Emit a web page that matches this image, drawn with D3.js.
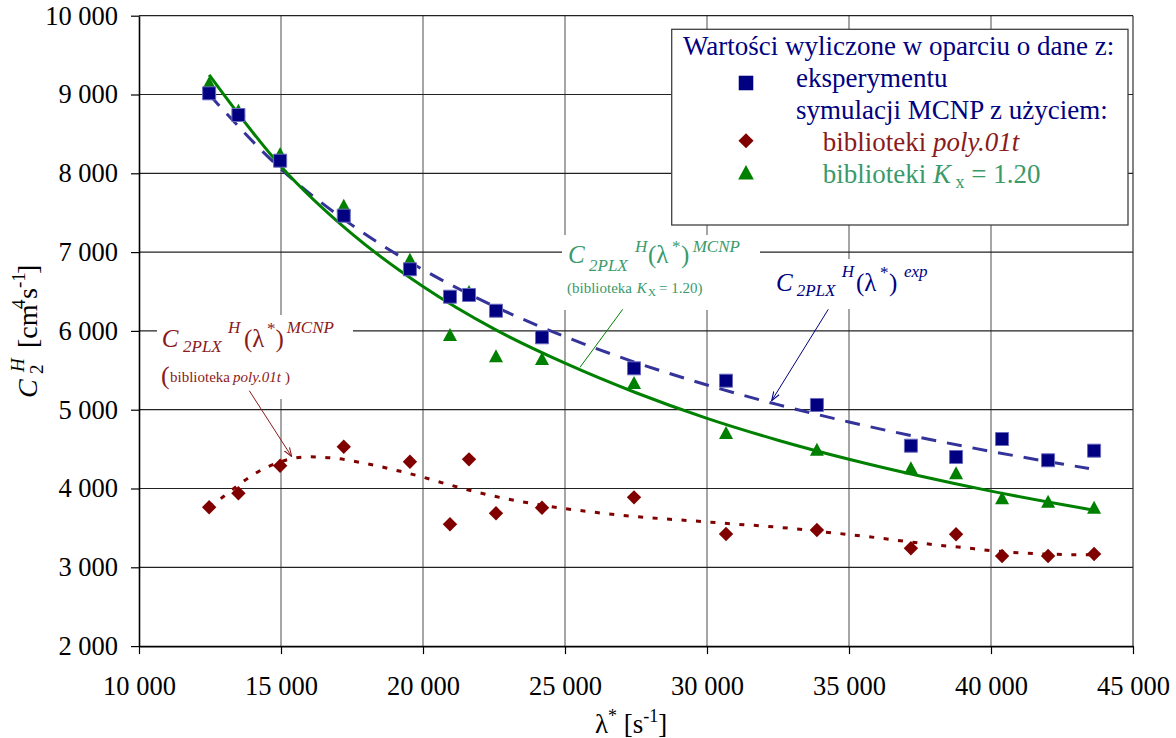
<!DOCTYPE html>
<html><head><meta charset="utf-8">
<script src="https://cdn.jsdelivr.net/npm/d3@7"></script>
<style>
body{margin:0;background:#fff}
svg{display:block}
</style>
</head><body>
<svg id="c" width="1176" height="738" font-family="Liberation Serif"></svg>
<script>
// ---- data ----
const lambda     = [12470, 13500, 14970, 17210, 19540, 20950, 21620, 22570, 24190, 27430, 30670, 33870, 37180, 38770, 40390, 42010, 43630];
const expValues  = [9015, 8740, 8160, 7462, 6782, 6434, 6456, 6256, 5919, 5525, 5368, 5060, 4543, 4400, 4628, 4358, 4480];
const polyValues = [3762, 3939, 4289, 4530, 4340, 3546, 4370, 3685, 3756, 3888, 3422, 3473, 3241, 3419, 3143, 3143, 3168];
const kxValues   = [9130, 8780, 8232, 7576, 6891, 5935, 6480, 5665, 5630, 5326, 4692, 4480, 4244, 4180, 3863, 3820, 3744];

// fitted curves C2PLX
const expCurveLambda = [12470, 15000, 17500, 20000, 22500, 25000, 27500, 30000, 32500, 35000, 37500, 40000, 42500, 43450];
const expCurveValues = [9000, 8054, 7342, 6777, 6314, 5927, 5598, 5314, 5064, 4844, 4648, 4471, 4311, 4254];
const kxCurveLambda  = [12470, 15000, 17500, 20000, 22500, 25000, 27500, 30000, 32500, 35000, 37500, 40000, 42500, 43630];
const kxCurveValues  = [9250, 8087, 7231, 6563, 6025, 5590, 5215, 4890, 4613, 4371, 4158, 3967, 3797, 3725];
const polyCurveLambda = [12470, 13000, 13500, 14000, 14500, 15000, 15500, 16000, 16500, 17000, 17500, 18000, 18500, 19000, 19500, 20000, 21000, 22000, 23000, 24000, 25000, 26000, 27000, 28000, 29000, 30000, 31000, 32000, 33000, 34000, 35000, 36000, 37000, 38000, 39000, 40000, 41000, 42000, 43000, 43630];
const polyCurveValues = [3760, 3905, 4045, 4170, 4270, 4340, 4388, 4402, 4396, 4380, 4350, 4316, 4278, 4235, 4192, 4143, 4040, 3945, 3865, 3800, 3745, 3700, 3659, 3628, 3602, 3576, 3548, 3523, 3492, 3453, 3416, 3375, 3329, 3287, 3251, 3212, 3183, 3168, 3160, 3160];

const xTicks = [10000, 15000, 20000, 25000, 30000, 35000, 40000, 45000];
const yTicks = [2000, 3000, 4000, 5000, 6000, 7000, 8000, 9000, 10000];

// ---- colours ----
const NAVY = "#000080", DASHBLUE = "#333399", GREEN = "#008000", LABELGREEN = "#3a9a6a", DARKRED = "#800000", LABELRED = "#8b1a1a";
const FONT = "Liberation Serif";

const svg = d3.select("#c");
svg.append("rect").attr("width", 1176).attr("height", 738).attr("fill", "#fff");

const L = 139, R = 1133, T = 15.7, B = 646.1;
const x = d3.scaleLinear().domain([10000, 45000]).range([L, R]);
const y = d3.scaleLinear().domain([2000, 10000]).range([B, T]);
const fmt = v => d3.format(",")(v).replace(/,/g, " ");

// gridlines
svg.append("g").selectAll("line").data(xTicks.filter(v => v > 10000)).join("line")
  .attr("x1", d => x(d)).attr("x2", d => x(d)).attr("y1", T).attr("y2", B)
  .attr("stroke", d => d === 45000 ? "#333" : "#6a6a6a").attr("stroke-width", 1.2);
svg.append("g").selectAll("line").data(yTicks.filter(v => v > 2000)).join("line")
  .attr("x1", L).attr("x2", R).attr("y1", d => y(d)).attr("y2", d => y(d))
  .attr("stroke", "#222").attr("stroke-width", 1.2);

// axes
const yAxis = svg.append("g").attr("transform", `translate(${L},0)`)
  .call(d3.axisLeft(y).tickValues(yTicks).tickFormat(fmt).tickSize(8).tickSizeOuter(0).tickPadding(13));
const xAxis = svg.append("g").attr("transform", `translate(0,${B})`)
  .call(d3.axisBottom(x).tickValues(xTicks).tickFormat(fmt).tickSize(8).tickSizeOuter(0).tickPadding(22));
[yAxis, xAxis].forEach(g => {
  g.attr("font-family", FONT).attr("font-size", 26.5);
  g.select(".domain").attr("stroke", "#000").attr("stroke-width", 1.6);
  g.selectAll(".tick line").attr("stroke", "#000").attr("stroke-width", 1.2);
  g.selectAll(".tick text").attr("fill", "#000");
});

// white boxes behind annotation labels
const boxes = [[157, 315, 196, 84], [562, 235, 198, 75], [770, 259, 160, 50]];
svg.append("g").selectAll("rect").data(boxes).join("rect")
  .attr("x", d => d[0]).attr("y", d => d[1]).attr("width", d => d[2]).attr("height", d => d[3]).attr("fill", "#fff");

// curves
const line = d3.line().x(d => x(d[0])).y(d => y(d[1])).curve(d3.curveMonotoneX);
svg.append("path").datum(d3.zip(polyCurveLambda, polyCurveValues)).attr("d", line)
  .attr("fill", "none").attr("stroke", DARKRED).attr("stroke-width", 3).attr("stroke-dasharray", "5,9.5");
svg.append("path").datum(d3.zip(expCurveLambda, expCurveValues)).attr("d", line)
  .attr("fill", "none").attr("stroke", DASHBLUE).attr("stroke-width", 3).attr("stroke-dasharray", "15,11");
svg.append("path").datum(d3.zip(kxCurveLambda, kxCurveValues)).attr("d", line)
  .attr("fill", "none").attr("stroke", GREEN).attr("stroke-width", 3);

// markers
const SQ = "M-6.5,-6.5h13v13h-13z", DI = "M0,-7.2L7.2,0L0,7.2L-7.2,0Z", TR = "M0,-8L7,5L-7,5Z";
svg.append("g").selectAll("path").data(d3.zip(lambda, polyValues)).join("path")
  .attr("d", DI).attr("transform", d => `translate(${x(d[0])},${y(d[1])})`).attr("fill", DARKRED);
svg.append("g").selectAll("path").data(d3.zip(lambda, kxValues)).join("path")
  .attr("d", TR).attr("transform", d => `translate(${x(d[0])},${y(d[1])})`).attr("fill", GREEN);
svg.append("g").selectAll("path").data(d3.zip(lambda, expValues)).join("path")
  .attr("d", SQ).attr("transform", d => `translate(${x(d[0])},${y(d[1])})`)
  .attr("fill", NAVY).attr("stroke", "#6b6bc0").attr("stroke-width", 1);

// arrow markers
const defs = svg.append("defs");
[["arRed", LABELRED], ["arBlue", NAVY]].forEach(([id, c]) => {
  defs.append("marker").attr("id", id).attr("viewBox", "0 0 10 10").attr("refX", 10).attr("refY", 5)
    .attr("markerWidth", 9).attr("markerHeight", 9).attr("markerUnits", "userSpaceOnUse").attr("orient", "auto")
    .append("path").attr("d", "M0,1.5L10,5L0,8.5").attr("fill", "none").attr("stroke", c).attr("stroke-width", 1.2);
});

// leader lines (data coordinates)
const leaders = [
  {from: [13884, 5241], to: [15377, 4404], c: LABELRED, m: "arRed"},
  {from: [34271, 6274], to: [32278, 5114], c: NAVY, m: "arBlue"},
  {from: [27032, 6274], to: [25528, 5538], c: GREEN, m: null}
];
leaders.forEach(l => {
  const ln = svg.append("line").attr("x1", x(l.from[0])).attr("y1", y(l.from[1]))
    .attr("x2", x(l.to[0])).attr("y2", y(l.to[1])).attr("stroke", l.c).attr("stroke-width", 1);
  if (l.m) ln.attr("marker-end", `url(#${l.m})`);
});

// helper to place text pieces
function pieces(parent, color, list) {
  const g = parent.append("g").attr("fill", color);
  list.forEach(p => {
    g.append("text").attr("x", p[1]).attr("y", p[2]).attr("font-family", FONT).attr("font-size", p[3])
      .attr("font-style", p[4] ? "italic" : "normal").text(p[0]);
  });
  return g;
}
// red label
pieces(svg, LABELRED, [
  ["C", 161.7, 346.7, 25, 1], ["2PLX", 183, 351.5, 17, 1], ["H", 228, 333, 17, 1],
  ["(λ", 244, 346.7, 25, 0], ["*", 267, 334, 17, 0], [")", 275.5, 346.7, 25, 0], ["MCNP", 286.7, 333, 17, 1],
  ["(", 161, 384, 26, 0], ["biblioteka", 170, 381.7, 15, 0], ["poly.01t", 233, 381.7, 15, 1], [")", 285, 381.7, 15, 0]
]);
// green label
pieces(svg, LABELGREEN, [
  ["C", 568, 263.3, 25, 1], ["2PLX", 589, 271, 17, 1], ["H", 635, 251.7, 17, 1],
  ["(λ", 648, 263.3, 25, 0], ["*", 672, 252, 17, 0], [")", 681, 263.3, 25, 0], ["MCNP", 692.7, 251.7, 17, 1],
  ["(biblioteka", 567, 292.7, 15, 0], ["K", 636.7, 292.7, 15, 1], ["X", 648, 295.5, 11, 0], ["= 1.20)", 659, 292.7, 15, 0]
]);
// blue label
pieces(svg, NAVY, [
  ["C", 776, 291, 25, 1], ["2PLX", 796.7, 296, 17, 1], ["H", 841.7, 277, 17, 1],
  ["(λ", 856, 291, 25, 0], ["*", 880, 278, 17, 0], [")", 889, 291, 25, 0], ["exp", 904, 277, 17, 1]
]);

// legend
svg.append("rect").attr("x", 671.7).attr("y", 29.3).attr("width", 456.3).attr("height", 195.7)
  .attr("fill", "#fff").attr("stroke", "#404040").attr("stroke-width", 1.3);
const lg = svg.append("g").attr("font-family", FONT).attr("font-size", 27);
lg.append("text").attr("x", 683).attr("y", 55).attr("fill", NAVY).text("Wartości wyliczone w oparciu o dane z:");
lg.append("text").attr("x", 796).attr("y", 87).attr("fill", NAVY).text("eksperymentu");
lg.append("text").attr("x", 796).attr("y", 119).attr("fill", NAVY).text("symulacji MCNP z użyciem:");
const t4 = lg.append("text").attr("x", 822.7).attr("y", 151).attr("fill", LABELRED);
t4.append("tspan").text("biblioteki ");
t4.append("tspan").attr("font-style", "italic").text("poly.01t");
const t5 = lg.append("text").attr("x", 822.7).attr("y", 183).attr("fill", LABELGREEN);
t5.append("tspan").text("biblioteki ");
t5.append("tspan").attr("font-style", "italic").text("K");
t5.append("tspan").attr("dy", 5).attr("font-size", 18).text(" x");
t5.append("tspan").attr("dy", -5).text(" = 1.20");
lg.append("path").attr("d", SQ).attr("transform", "translate(746,83) scale(1.12)").attr("fill", NAVY);
lg.append("path").attr("d", DI).attr("transform", "translate(746,140.7) scale(1.05)").attr("fill", DARKRED);
lg.append("path").attr("d", TR).attr("transform", "translate(746,174) scale(1.12)").attr("fill", GREEN);

// y axis title
const yt = svg.append("g").attr("transform", "translate(37,398) rotate(-90)");
pieces(yt, "#000", [["C", 0, 0, 28, 1], ["2", 24, 6, 19, 0], ["H", 26, -13, 19, 1], ["[cm", 50, 0, 28, 0], ["4", 89, -12, 19, 0],
 ["s", 99, 0, 28, 0], ["-1", 110, -12, 19, 0], ["]", 124, 0, 28, 0]]);
// x axis title
const xt = svg.append("text").attr("x", 595).attr("y", 733).attr("fill", "#000").attr("font-family", FONT).attr("font-size", 27);
xt.append("tspan").text("λ");
xt.append("tspan").attr("dy", -11).attr("font-size", 18).text("*");
xt.append("tspan").attr("dy", 11).text(" [s");
xt.append("tspan").attr("dy", -11).attr("font-size", 18).text("-1");
xt.append("tspan").attr("dy", 11).text("]");
</script>
</body></html>
